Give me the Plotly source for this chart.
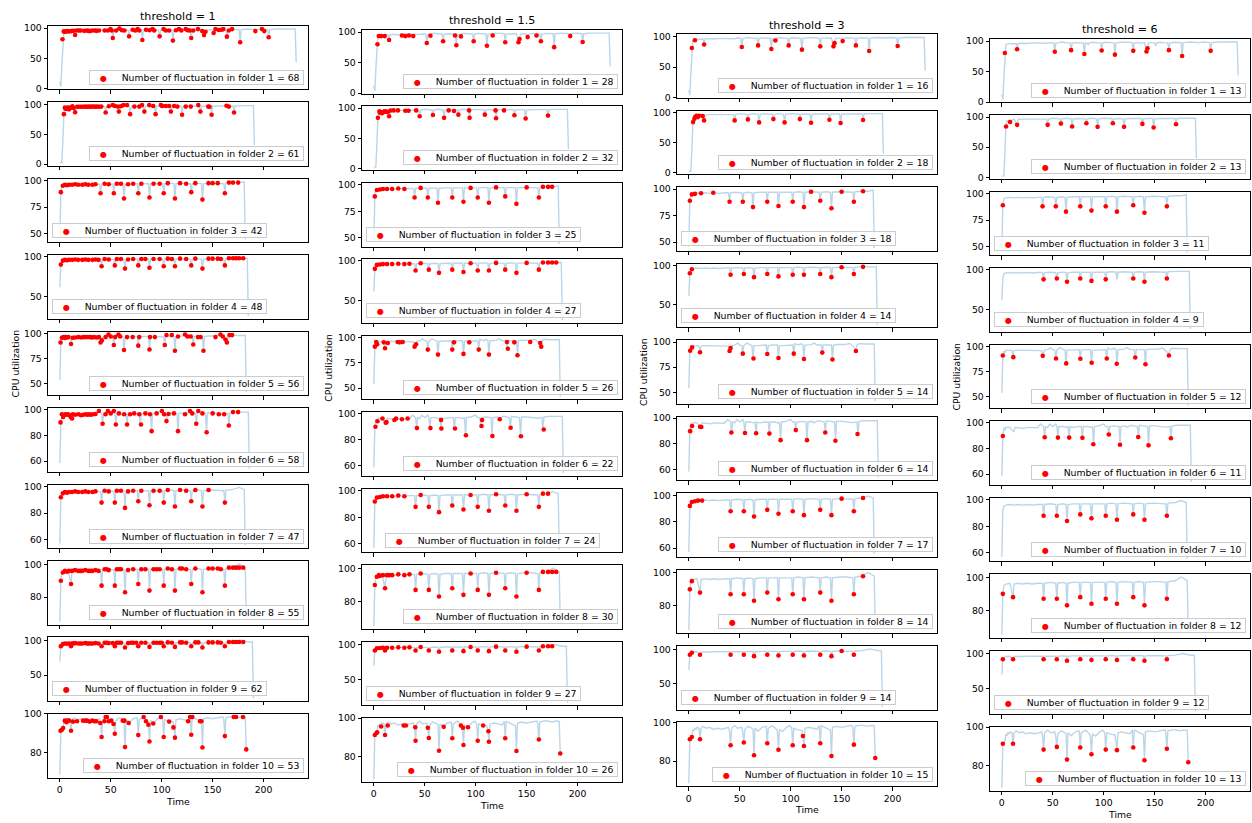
import plotly.graph_objects as go

W, H = 1252, 823
FONT = "DejaVu Sans"

THRESHOLD_LABELS = ["threshold = 1", "threshold = 1.5", "threshold = 3", "threshold = 6"]
X_TICKS = [0, 50, 100, 150, 200]
COUNT_TH1 = [68, 61, 42, 48, 56, 58, 47, 55, 62, 53]
COUNT_TH15 = [28, 32, 25, 27, 26, 22, 24, 30, 27, 26]
COUNT_TH3 = [16, 18, 18, 14, 14, 14, 17, 14, 14, 15]
COUNT_TH6 = [13, 13, 11, 9, 12, 11, 10, 12, 12, 13]
Y_TICKS = [[0, 50, 100], [0, 50, 100], [50, 75, 100], [50, 100], [50, 75, 100],
           [60, 80, 100], [60, 80, 100], [80, 100], [50, 100], [80, 100]]

# ---------------- folder 1 ----------------
L1 = [(0,12),(1,4),(2,40),(3,81),(4,94.5),(6,95.5),(9,96),(12,96.5),(14,96),(15,87),(16,96),(20,96.5),(25,96),
      (30,97),(35,96.5),(40,97),(45,96.5),(48,97.5),(51,97),(52,83),(53,96.5),(56,97.5),(59,98.5),(63,97),(67,97),
      (68,85.5),(69,97),(72,97.5),(76,97.5),(80,97),(81,79),(82,97),(84,96),(85,93.5),(86,97.5),(90,98),(94,97),
      (97,97),(98,85),(99,97),(102,98),(107,97.5),(110,97),(111,78),(112,97),(117,98),(120,97.5),(124,98),(128,97.5),
      (129,84),(130,97),(136,98),(140,97.5),(142,84),(143,89),(144,97),(150,97),(151,92),(152,97),(156,98),(159,97.5),
      (163,97),(164,85.5),(165,97),(170,98),(176,97.5),(177,76),(178,97.5),(185,98.5),(192,97.5),(199,98.5),(204,97.5),
      (205,84.5),(206,97.5),(212,98.5),(220,98.5),(226,98.9),(231,98.5),(232,44)]
D1_TH1 = [(2.6,81.6),(3.9,94.6),(5,94),(5.9,94.6),(7.5,95),(9.1,94.6),(11.4,95.1),(13,95.5),(15,88.6),(16.3,96.2),
          (18.5,96),(20.5,96.2),(24,95.5),(26.7,96.2),(28,95.5),(29.6,95.1),(32,96),(34.8,96.2),(36,95.5),(38.4,96.2),
          (44,96),(47.2,96.2),(49.8,98.4),(51,96),(52,83.8),(55.3,96.2),(58.5,99.2),(61,96.5),(63.4,96.2),(68,86.5),
          (71.5,97.3),(74,96),(76.4,98.4),(78,96.2),(81,80.5),(84.6,97.3),(88,96.5),(91,98.4),(92.7,96.2),(98,86.5),
          (101.8,98.4),(104,96),(107.3,96.2),(111,79.5),(114,96.5),(117,98.4),(119.3,96.2),(123.6,98.4),(125.5,96.5),
          (127.5,96.2),(129,83.8),(131,96),(135.6,98.4),(139.8,95.1),(141.5,88.6),(143,94),(151,92),(152.8,98.4),
          (156,97),(158.7,97.3),(160.5,98.4),(164,86),(165.9,96.2),(169.1,98.4),(177,76.8),(191.9,95.1),(198.4,98.4),
          (200.7,95.1),(205,84.9)]
D1_TH15 = [(3.6,80.3),(4.9,93.6),(7.2,93.6),(10.7,93.6),(15,87.2),(27.6,94.7),(30.9,93.6),(34.5,94.7),(38.7,93.6),
           (52,82.4),(55.6,94.1),(68,85.1),(79.7,94.7),(81,78.7),(85.5,93.1),(98,85.1),(111,77.7),(116.7,94.7),
           (129,83.5),(142,83.5),(143,88.8),(151,92),(159.7,94.7),(164,85.1),(177,75.5),(192.8,93.6),(205,84)]
D1_TH3 = [(3,81.2),(6,94),(15,87),(52,82.8),(68,85.5),(81,79.6),(85,93.5),(98,85.5),(111,78.5),(129,83.9),
          (142,83.9),(143,89.2),(151,92.5),(164,85.5),(177,76.3),(205,84.4)]
D1_TH6 = [(3,80.5),(15,86.7),(52,82.5),(68,85.1),(81,78.7),(98,84.6),(111,77.7),(129,84),(142,83),(143,88.3),
          (164,85.1),(177,75.5),(205,84)]

# ---------------- folder 2 ----------------
L2 = [(0,2),(1,2),(2,2.5),(3,40),(4,84),(5,94.5),(6,92.5),(7,94.5),(8,92),(9,94.5),(10,94.5),(12,96.5),(13,94),
      (15,87),(16,96),(19,96.5),(23,96.5),(27,96.5),(31,96),(35,96.5),(40,96.5),(44,96.5),(45,87),(46,96.5),(50,98),
      (54,97),(57,97),(58,88.5),(59,97),(63,98),(66,97.5),(68,97),(69,83.5),(70,97),(74,97.5),(78,97.5),(82,97),
      (83,89),(84,97),(88,98),(92,97.5),(93,97),(94,83.5),(95,97),(100,98),(104,97.5),(108,97.5),(109,89),(110,97),
      (114,97.5),(119,97),(120,83),(121,97),(126,97.5),(131,97.5),(137,97.5),(138,88),(139,97),(144,97.5),(148,97.5),
      (149,82.5),(150,97),(156,97.5),(163,98),(166,97.5),(170,97.5),(171,87.3),(172,97.5),(178,98),(185,98),(190,98),
      (191,32)]
D2_TH1 = [(4,83.7),(4.9,94.6),(5.5,93),(6.5,92.4),(7.3,94.5),(8.1,94.6),(9.1,91.8),(10,94),(10.7,94.6),(12.4,96.7),
          (13.5,94),(15,87),(17,96),(18.9,96),(21,96.2),(22.8,96),(25,96.3),(26.7,96),(28.5,96.3),(29.9,96),
          (31.5,96.4),(33.5,96.4),(35,96.2),(36.7,96.4),(38.5,96.2),(40.7,96.4),(45,86.4),(48.1,97),(52,98.9),
          (54,97.5),(56.9,96.4),(58,88),(60,97),(62.4,98.9),(66,98.9),(69,83.7),(73.2,96.4),(78,96.4),(80.7,98.9),
          (83,88),(87.8,98.9),(91.7,97.3),(94,83.7),(99.2,98.9),(100.5,97.5),(104,97.3),(107.3,97.3),(109,88),
          (112.2,97.3),(115.4,96.4),(120,82.6),(123.6,96.4),(128.5,96.4),(135.9,98.9),(138,88),(145.7,96.4),(147,96),
          (149,82.6),(163.6,97.8),(165.9,96.4),(171,86.4)]
D2_TH15 = [(4,83.9),(5.5,94.6),(6,92.5),(7,93),(8,91.4),(9.5,94),(10,93.5),(11,94.6),(12.5,94),(14,94),(15,86.6),
           (16.5,96),(19.5,96.2),(23.7,96.2),(30.9,95.7),(34.1,95.7),(41.6,96.2),(45,86.6),(58,88.7),(69,83.9),
           (73.5,96.2),(78.7,95.2),(83,89.2),(93.5,96.2),(94,83.9),(109,89.2),(119.5,96.2),(120,83.3),(127.8,96.2),
           (138,88.2),(149,82.8),(171,87.6)]
D2_TH3 = [(4.2,84),(5.5,89.6),(6.2,92.3),(7.5,94.5),(8.8,92.3),(10,94.5),(13.6,94),(15,86.8),(45,86.8),(58,88.5),
          (69,83.5),(83,89),(94,83.5),(109,89),(120,83),(138,88),(149,82.4),(171,87.4)]
D2_TH6 = [(4.2,84.2),(8.1,91.8),(15,87),(45,87),(58,89.1),(69,84.2),(83,89.7),(94,83.7),(109,89.7),(120,83.7),
          (138,88.6),(149,82.6),(171,88)]

# ---------------- folder 3 ----------------
L3 = [(0,46),(1,89),(2,95),(4,96),(8,96.5),(12,96),(16,96.5),(20,96),(25,96.5),(30,96),(35,96.5),(39,96.5),(40,88),
      (41,96.5),(45,97),(50,96.5),(52,96.5),(53,88),(54,96.5),(58,97),(62,96.5),(63,83),(64,96.5),(70,97),(76,97),
      (77,88),(78,97),(84,97),(87,97),(88,84),(89,97),(95,97),(101,97),(102,88),(103,97),(108,97.5),(112,97),(113,83),
      (114,97),(120,97.5),(128,97),(129,89),(130,97),(135,97.5),(139,97),(140,82),(141,97),(148,97.5),(155,97.5),
      (161,97),(162,88),(163,97.5),(170,98),(176,98),(181,99),(182,44.5)]
D3_TH1 = [(1,89),(3,95),(5,96),(7,95.5),(9,96),(12,96),(15,96.5),(18,96),(22,96),(25,96.5),(28,96),(32,96),(35,96.5),
          (40,88),(44,97),(48,96.5),(53,88),(56,97),(60,97),(63,83),(67,96.5),(72,97),(77,88),(80,97),(88,84),(92,97),
          (98,97),(102,88),(106,97.5),(113,83),(118,97.5),(124,97),(129,89),(133,97.5),(140,82),(146,97.5),(150,97.5),
          (155,97.5),(162,88),(166,98),(170,98),(175,98)]
D3_TH15 = [(1,89),(3,95),(6,95.5),(9,96),(13,96),(18,96),(24,96.5),(30,96),(40,88),(46,97),(53,88),(63,83),(77,88),
           (88,84),(95,97),(102,88),(113,83),(120,97.5),(129,89),(140,82),(150,97.5),(162,88),(166,98),(171,98),(175,98)]
D3_TH3 = [(1,89),(3,95),(6,95.5),(12,96),(24,96.5),(40,88),(53,88),(63,83),(77,88),(88,84),(102,88),(113,83),
          (120,97.5),(129,89),(140,82),(150,97.5),(162,88),(171,98)]
D3_TH6 = [(1,89),(40,88),(53,88),(63,83),(77,88),(88,84),(102,88),(113,83),(129,89),(140,82),(162,88)]

# ---------------- folder 4 ----------------
L4 = [(0,61.5),(1,90),(2,95),(4,96),(8,96.5),(12,96),(16,96.5),(20,96),(25,96.5),(30,96),(35,96.5),(40,96.5),(41,88),
      (42,96.5),(48,97),(53,96.5),(54,89),(55,96.5),(60,97),(63,96.5),(64,85),(65,96.5),(70,97),(76,97),(77,89),
      (78,97),(84,97),(87,97),(88,86),(89,97),(95,97),(101,97),(102,88),(103,97),(108,97.5),(112,97),(113,88),
      (114,97),(120,97.5),(128,97),(129,89),(130,97),(135,97.5),(139,97),(140,85),(141,97),(148,97.5),(155,97.5),
      (161,97),(162,89),(163,97.5),(170,98),(178,98.3),(184,98),(185,25.5)]
D4_TH1 = [(1,90),(3,95),(5,96),(7,95.5),(9,96),(12,96),(15,96.5),(18,96),(22,96),(25,96.5),(28,96),(32,96),(35,96.5),
          (38,96),(41,88),(44,97),(48,96.5),(54,89),(56,97),(60,97),(64,85),(67,96.5),(72,97),(77,89),(80,97),(84,97),
          (88,86),(92,97),(98,97),(102,88),(106,97.5),(110,97),(113,88),(118,97.5),(124,97),(129,89),(133,97.5),
          (140,85),(146,97.5),(150,97.5),(155,97.5),(158,97),(162,89),(166,98),(170,98),(173,98),(176,98),(180,98)]
D4_TH15 = [(1,90),(3,95),(6,95.5),(9,96),(13,96),(18,96),(24,96.5),(30,96),(35,96.5),(41,88),(46,97),(54,89),(64,85),
           (77,89),(88,86),(95,97),(102,88),(113,88),(120,97.5),(129,89),(140,85),(150,97.5),(162,89),(166,98),(171,98),
           (175,98),(179,98)]
D4_TH3 = [(1,90),(3,95),(41,88),(54,89),(64,85),(77,89),(88,86),(102,88),(113,88),(129,89),(140,85),(150,97.5),
          (162,89),(171,98)]
D4_TH6 = [(41,88),(54,89),(64,85),(77,89),(88,86),(102,88),(129,89),(140,85),(162,89)]

# ---------------- folder 5 ----------------
L5 = [(0,54),(1,91),(2,95.5),(3,94),(4,96.5),(6,96),(8,96.5),(10,96),(11,89.5),(12,95.7),(14,96.5),(18,96.5),(23,96.5),
      (26,96),(28,96.5),(31,96.5),(34,96.5),(38,96.5),(39,96),(40,91),(41,93.5),(42,96.5),(45,97),(48,99),(50,97),
      (52,96.5),(53,88.3),(54,96.5),(57,99),(60,97),(62,96.5),(63,83.3),(64,96.5),(67,96.5),(72,96.5),(76,97),(77,88),
      (78,96.5),(82,97),(87,97),(88,84),(89,96.5),(93,96.5),(98,97),(102,97),(103,88.3),(104,98.4),(108,97),(110,98.4),
      (112,97),(113,83),(114,97),(116,97),(120,97.5),(123,99),(126,97),(128,97),(130,97),(131,89.2),(132,97),(136,97),
      (140,97),(141,82.5),(142,97),(146,97.5),(150,97.5),(153,97.5),(158,98.5),(160,97),(163,94),(164,91),(165,97),
      (167,98.4),(170,98),(175,98),(180,98),(182,98),(183,41.5)]
D5_TH1 = [(0.7,91.1),(2,95.7),(3.6,96.4),(5,95.5),(5.9,96.4),(7,96),(8.5,96.4),(11,89.5),(12.7,95.7),(15,96),
          (18.2,96.4),(21,96),(23.4,96.4),(25.4,96.4),(27.6,96.4),(29.9,96.4),(31.5,96),(33.5,96.4),(36,96),(38.4,96.4),
          (40,91.1),(41.3,93.1),(45,96.4),(47.8,99),(50,97),(53,88.5),(54.3,96.4),(57.6,99),(59.2,97),(63,83.6),
          (66,96.4),(71.5,96.4),(77,87.9),(78,96.4),(88,84),(88.5,96.4),(93.3,96.4),(103,88.5),(104.7,98.4),
          (109.9,98.4),(113,82.9),(116,97),(122.9,99),(125.2,97),(128.5,97),(131,89.1),(135.6,96.4),(138.2,96.4),
          (141,82.9),(152.8,96.4),(157.7,99),(160,97),(162.6,94),(164,91.1),(166.5,98.4),(169.1,98.4)]
D5_TH15 = [(1,91.1),(2.3,95.7),(3.3,93.4),(9.8,95.4),(11,89.5),(13.7,94.7),(23.4,95.7),(25.4,95.4),(28.3,95.7),
           (40,91.1),(41.5,93.4),(53,88.2),(63,83.2),(77,88.2),(78.7,95.4),(88,83.9),(93.7,95.4),(103,88.2),(113,83.2),
           (130.7,95.7),(131.5,89.1),(137.9,95.4),(141,82.6),(153.5,95.7),(163.3,94.7),(164.3,91.1)]
D5_TH3 = [(1.3,91.4),(3.2,94.7),(11,89.8),(40,91.1),(41,94.1),(53,88.5),(63.5,83.6),(77,88.2),(88,84.2),(103,88.5),
          (113,83.2),(131,89.5),(141,82.6),(164,91.1)]
D5_TH6 = [(1,91.2),(11.3,89.5),(40.2,90.8),(53.2,88.2),(63.2,83.3),(77.1,87.9),(88.2,84),(103,88.2),(112.8,83),
          (131,89.2),(141,82.4),(164,91.2)]

# ---------------- folder 6 ----------------
L6 = [(0,58.5),(1,89.8),(2,96),(3,94),(4,96.5),(6,96.3),(8,96.3),(10,94.2),(11,93.3),(12,93),(13,96.3),(16,96),
      (18,96.3),(21,95.5),(25,96.3),(28,96.3),(32,96.5),(35,96),(38,98.9),(41,97),(42,88.8),(43,97),(45,96.3),
      (47,98.9),(50,97),(53,98.9),(54,97),(55,88.5),(56,97),(60,97),(63,96.3),(65,97),(66,88.3),(67,97),(69,96.3),
      (73,97),(76,97),(78,97),(79,88),(80,97),(84,97),(88,96.3),(89,97),(90,83),(91,97),(95,97.5),(100,98.9),(102,97),
      (104,97),(105,90.8),(106,97),(110,97.5),(115,97),(116,83),(117,97),(121,97.5),(123,96.3),(127,98),(131,97.5),
      (133,97),(134,89),(135,98),(139,97.5),(143,97),(144,82.5),(145,97.5),(150,97.5),(156,97),(161,96.5),(165,97),
      (166,87.8),(167,97.5),(172,98),(178,98),(183,98),(185,98),(186,54)]
D6_TH1 = [(0.7,90),(2,96.3),(3.3,94.2),(4.5,96),(5.9,96.3),(7,96),(8.1,96.3),(9.5,95.5),(10.7,94.2),(12,93),
          (12.7,96.3),(15,96),(18.2,96.3),(20.8,95.5),(23,96),(25.4,96.3),(27,96),(28.6,96.3),(30.5,96),(32.5,96.3),
          (35,96.5),(38.4,98.9),(42,89),(44.9,96.3),(47.2,98.9),(50,97),(53,98.9),(55,88.4),(58,97),(63.1,96.3),
          (66,88.4),(69,96.3),(73,97),(78,96.3),(79.7,88.4),(84,97),(88.5,96.3),(90.1,83.2),(95,97),(100.2,98.9),
          (102.4,96.3),(104.7,91),(106.7,96.5),(112,97),(116,83.2),(122.9,96.3),(127.8,98.9),(130,97),(133.9,89),
          (135.9,98.9),(140,97),(144.1,82.4),(150,97),(156.1,96.3),(161.3,96.3),(165.9,87.6),(170,98),(175,98)]
D6_TH15 = [(1.6,89.9),(3.6,94.2),(8.5,96.3),(11.7,93.1),(12.4,93.5),(20.2,95.2),(21.8,96.3),(27.6,95.8),(33.2,96.3),
           (42.3,88.9),(55.6,88.9),(66,95.2),(66.3,88.6),(79.7,88.6),(90.4,83.3),(105.7,90.5),(106.3,95.2),
           (116.4,82.8),(123.6,95.8),(134.3,89.1),(144.4,82.5),(166.8,87.8)]
D6_TH3 = [(1.3,89.9),(3.2,93.9),(11,93.3),(12.3,93.1),(41.8,88.8),(55.1,88.5),(66.1,88.3),(79.1,88),(90.1,82.9),
          (105,90.7),(116,82.9),(133.9,88.8),(143.9,82.4),(165.6,87.7)]
D6_TH6 = [(1,89.7),(42.1,88.7),(55.1,88.4),(66.1,88.4),(79.1,88.2),(89.8,83.2),(105,90.8),(116,82.9),(133.9,88.9),
          (144,82.4),(166,87.9)]

# ---------------- folder 7 ----------------
L7 = [(0,57),(1,92),(2,95),(4,96),(8,96.5),(12,96),(16,96.5),(20,96),(25,96.5),(30,96),(35,96.5),(40,96.5),(41,88),
      (42,96.5),(48,97),(53,96.5),(54,88),(55,96.5),(60,97),(63,96.5),(64,84),(65,96.5),(70,97),(76,97),(77,89),
      (78,97),(84,97),(87,97),(88,86),(89,97),(95,97),(101,97),(102,88),(103,97),(108,97.5),(112,97),(113,85),
      (114,97),(120,97.5),(128,97),(129,89),(130,97),(135,97.5),(139,97),(140,85),(141,97),(148,97.5),(155,97.5),
      (161,97),(162,88),(163,97.5),(170,98),(176,99.5),(181,98),(182,55.7)]
D7_TH1 = [(1,92),(3,95),(5,96),(7,95.5),(9,96),(12,96),(15,96.5),(18,96),(22,96),(25,96.5),(28,96),(32,96),(35,96.5),
          (41,88),(44,97),(48,96.5),(54,88),(56,97),(60,97),(64,84),(67,96.5),(72,97),(77,89),(80,97),(88,86),(92,97),
          (98,97),(102,88),(106,97.5),(113,85),(118,97.5),(124,97),(129,89),(133,97.5),(140,85),(146,97.5),(162,88)]
D7_TH15 = [(1,92),(3,95),(6,95.5),(9,96),(13,96),(18,96),(24,96.5),(30,96),(41,88),(46,97),(54,88),(64,84),(77,89),
           (88,86),(95,97),(102,88),(113,85),(120,97.5),(129,89),(140,85),(150,97.5),(162,88),(166,98),(171,98)]
D7_TH3 = [(1,92),(3,95),(6,95.5),(9,96),(13,96),(41,88),(54,88),(64,84),(77,89),(88,86),(102,88),(113,85),(129,89),
          (140,85),(150,97.5),(162,88),(171,98)]
D7_TH6 = [(41,88),(54,88),(64,84),(77,89),(88,86),(102,88),(113,85),(129,89),(140,85),(162,88)]

# ---------------- folder 8 ----------------
L8 = [(0,65),(1,90),(2,95),(4,96),(8,96.5),(11,88),(12,96),(16,96.5),(20,96),(25,96.5),(30,96),(35,96.5),(40,96.5),
      (41,87),(42,96.5),(48,97),(53,96.5),(54,87),(55,96.5),(60,97),(63,96.5),(64,83),(65,96.5),(70,97),(76,97),
      (77,88),(78,97),(84,97),(87,97),(88,84),(89,97),(95,97),(101,97),(102,87),(103,97),(108,97.5),(112,97),(113,84),
      (114,97),(120,97.5),(128,97),(129,88),(130,97),(135,97.5),(139,97),(140,83),(141,97),(148,97.5),(155,97.5),
      (161,97),(162,87),(163,97.5),(170,98),(176,100.3),(182,98),(183,66)]
D8_TH1 = [(1,90),(3,95),(5,96),(7,95.5),(9,96),(11,88),(15,96.5),(18,96),(22,96),(25,96.5),(28,96),(32,96),
          (35,96.5),(38,96),(41,87),(44,97),(48,96.5),(54,87),(56,97),(60,97),(64,83),(67,96.5),(72,97),(77,88),
          (80,97),(84,97),(88,84),(92,97),(98,97),(102,87),(106,97.5),(110,97),(113,84),(118,97.5),(124,97),(129,88),
          (133,97.5),(140,83),(146,97.5),(150,97.5),(155,97.5),(158,97),(162,87),(166,98),(170,98),(173,98),(176,98),
          (180,98),(12,96),(20,96),(30,96),(46,97),(58,97),(95,97),(120,97.5)]
D8_TH15 = [(1,90),(3,95),(6,95.5),(9,96),(11,88),(13,96),(18,96),(24,96.5),(30,96),(35,96.5),(41,87),(46,97),(54,87),
           (64,83),(77,88),(88,84),(95,97),(102,87),(113,84),(120,97.5),(129,88),(140,83),(150,97.5),(162,87),(166,98),
           (171,98),(175,98),(179,98),(15,96),(5,96)]
D8_TH3 = [(1,90),(11,88),(41,87),(54,87),(64,83),(77,88),(88,84),(102,87),(113,84),(129,88),(140,83),(162,87),
          (3,95),(171,98)]
D8_TH6 = [(1,90),(11,88),(41,87),(54,87),(64,83),(77,88),(88,84),(102,87),(113,84),(129,88),(140,83),(162,87)]

# ---------------- folder 9 ----------------
L9 = [(0,70),(1,92),(2,95),(4,96),(8,96.5),(11,92),(12,96),(16,96.5),(20,96),(25,96.5),(30,96),(35,96.5),(40,96.5),
      (41,92),(42,96.5),(48,97),(53,96.5),(54,92),(55,96.5),(60,97),(63,96.5),(64,90),(65,96.5),(70,97),(76,97),
      (77,92),(78,97),(84,97),(87,97),(88,91),(89,97),(95,97),(101,97),(102,92),(103,97),(108,97.5),(112,97),(113,91),
      (114,97),(120,97.5),(128,97),(129,92),(130,97),(135,97.5),(139,97),(140,90),(141,97),(148,97.5),(155,97.5),
      (161,97),(162,92),(163,97.5),(170,98),(178,100.5),(185,98),(189,98),(190,16.5)]
D9_TH1 = [(1,92),(3,95),(5,96),(7,95.5),(9,96),(11,92),(13,96),(15,96.5),(18,96),(20,96),(22,96),(25,96.5),(28,96),
          (30,96),(32,96),(35,96.5),(38,96),(41,92),(44,97),(46,97),(48,96.5),(54,92),(56,97),(58,97),(60,97),(64,90),
          (67,96.5),(70,97),(72,97),(77,92),(80,97),(84,97),(88,91),(92,97),(95,97),(98,97),(102,92),(106,97.5),
          (110,97),(113,91),(118,97.5),(120,97.5),(124,97),(129,92),(133,97.5),(136,97.5),(140,90),(146,97.5),
          (150,97.5),(155,97.5),(158,97),(162,92),(166,98),(170,98),(173,98),(176,98),(180,98),(12,96),(27,96),
          (52,96.5),(75,97),(100,97)]
D9_TH15 = [(1,92),(3,95),(6,95.5),(9,96),(11,92),(13,96),(18,96),(24,96.5),(30,96),(41,92),(46,97),(54,92),(64,90),
           (77,92),(88,91),(95,97),(102,92),(113,91),(120,97.5),(129,92),(140,90),(150,97.5),(162,92),(166,98),(171,98),
           (175,98),(35,96.5)]
D9_TH3 = [(1,92),(11,92),(41,92),(54,92),(64,90),(77,92),(88,91),(102,92),(113,91),(129,92),(140,90),(162,92),
          (3,95),(150,97.5)]
D9_TH6 = [(1,92),(11,92),(41,92),(54,92),(64,90),(77,92),(88,91),(102,92),(113,91),(129,92),(140,90),(162,92)]

# ---------------- folder 10 ----------------
L10 = [(0,68.5),(1,91.3),(2,92),(3,92.7),(4,96.5),(5,95.5),(6,97),(7,96.5),(8,97.5),(10,97),(11,91.3),(12,97),(14,98),
       (17,97),(20,97.5),(24,96.5),(28,97),(32,96.5),(36,97),(39,97.5),(40,95.3),(41,88.3),(42,97),(45,98.4),(48,97),
       (52,97.5),(53,95),(54,89.6),(55,96.5),(58,98),(62,97),(63,96.5),(64,83),(65,97),(68,95.5),(72,97.5),(76,98),
       (77,89.3),(78,97),(82,98.4),(86,96.5),(87,95),(88,86),(89,96.5),(92,95.3),(96,97.5),(99,98.4),(101,97),
       (102,88.3),(103,97),(107,96.2),(111,96),(112,93),(113,88),(114,97),(118,97.5),(122,97),(126,96.5),(128,98.4),
       (129,89.3),(130,98.4),(134,97.5),(138,96.2),(139,96),(140,82.8),(141,97.5),(145,98),(150,97.5),(155,98),
       (160,98.5),(161,97),(162,88.7),(163,98),(167,98.5),(171,98.5),(175,98),(179,98.5),(182,98.3),(183,81.7)]
D10_TH1 = [(0.7,91.3),(2,91.8),(3.3,92.7),(4.9,96.5),(6.5,95.7),(7.5,96.5),(9.1,96.5),(11,91.3),(13,96),(16.9,96.2),
           (22.8,96.5),(25,96.5),(26.7,96.5),(29.3,96),(31.9,96.5),(34.1,96.2),(35.8,96.2),(39.7,95.3),(41,88),
           (43.9,96.2),(45,98.4),(46.2,98.4),(48.1,96.2),(50.4,96.5),(52.7,94.8),(54,89.7),(61.8,96.5),(63.4,96.5),
           (64,82.8),(67.6,95.3),(77,89),(82.3,98.4),(84.6,96.2),(86.9,94.4),(88,85.7),(91.7,95),(99.2,98.4),
           (102,88),(107.3,96),(111.5,93),(113,87.7),(125.9,96.2),(127.8,98.4),(129,89.2),(130.1,98.4),(137.6,96.2),
           (138.9,96.2),(140,82.6),(162,88.5),(170.7,98.4),(173,98.4),(179.8,98.4),(183,81.6)]
D10_TH15 = [(1,91.3),(2.6,92.3),(3.3,92.7),(7.2,95.7),(11,91.3),(13.7,96.2),(29.3,96.2),(31.5,96.2),(40.7,95.3),
            (41,88.3),(53,95),(54,89.7),(64,83.1),(68.6,95.5),(77,89.6),(85.5,96.2),(87.5,95),(88,86.1),(92.4,95.3),
            (102,88.3),(107.3,96.2),(112.5,93.2),(113,87.8),(129,89.6),(140,83),(162,88.9),(183,81.7)]
D10_TH3 = [(1,91.3),(3,92.5),(11,91.3),(41,88.2),(54,89.6),(64,83),(77,89.2),(88,85.9),(102,88.2),(112,93),
           (113,87.8),(129,89.2),(140,82.6),(162,88.5),(183,81.6)]
D10_TH6 = [(1,91.3),(11,91.3),(41,88.3),(54,89.7),(64,83.1),(77,89.4),(88,85.9),(102,88.3),(113,88),(129,89.4),
           (140,82.8),(162,88.7),(183,81.7)]

LINES = [L1, L2, L3, L4, L5, L6, L7, L8, L9, L10]
DOTS = [
    [D1_TH1, D2_TH1, D3_TH1, D4_TH1, D5_TH1, D6_TH1, D7_TH1, D8_TH1, D9_TH1, D10_TH1],
    [D1_TH15, D2_TH15, D3_TH15, D4_TH15, D5_TH15, D6_TH15, D7_TH15, D8_TH15, D9_TH15, D10_TH15],
    [D1_TH3, D2_TH3, D3_TH3, D4_TH3, D5_TH3, D6_TH3, D7_TH3, D8_TH3, D9_TH3, D10_TH3],
    [D1_TH6, D2_TH6, D3_TH6, D4_TH6, D5_TH6, D6_TH6, D7_TH6, D8_TH6, D9_TH6, D10_TH6],
]
COUNTS = [COUNT_TH1, COUNT_TH15, COUNT_TH3, COUNT_TH6]
# legend placement per column (R = lower right, L = lower left, C = lower center)
LEGEND_SIDE = ["RRLLRRRRLR", "RRLLRRCRLR", "RRLLRRRRLR", "RRLLRRRRLR"]

# ---------------- layout geometry (pixels) ----------------
COL_LEFT = [48, 362, 677, 990]
COL_TOP = [20, 24.3, 28.7, 33.3]
AX_W, AX_H, ROW_PITCH = 260, 64.5, 77.5

LINE_COLOR = "rgba(31,119,180,0.3)"
DOT_COLOR = "#ff0000"
FS = 9.3

tmax = max(p[0] for L in LINES for p in L)
xr = [-0.05 * tmax, tmax * 1.05]

fig = go.Figure()
layout = dict(width=W, height=H, margin=dict(l=0, r=0, t=0, b=0), paper_bgcolor="white",
              plot_bgcolor="white", showlegend=False, hovermode=False,
              font=dict(family=FONT, size=FS, color="black"))
annotations = []

for c in range(4):
    for r in range(10):
        k = c * 10 + r + 1
        xid = "x" if k == 1 else f"x{k}"
        yid = "y" if k == 1 else f"y{k}"
        line = LINES[r]
        dots = DOTS[c][r]
        fig.add_trace(go.Scatter(x=[p[0] for p in line], y=[p[1] for p in line], mode="lines",
                                 line=dict(color=LINE_COLOR, width=1.4), xaxis=xid, yaxis=yid))
        fig.add_trace(go.Scatter(x=[p[0] for p in dots], y=[p[1] for p in dots], mode="markers",
                                 marker=dict(color=DOT_COLOR, size=4.6), xaxis=xid, yaxis=yid))
        vals = [p[1] for p in line] + [p[1] for p in dots]
        lo, hi = min(vals), max(vals)
        pad = 0.05 * (hi - lo)
        left = COL_LEFT[c]
        top = COL_TOP[c] + r * ROW_PITCH
        xdom = [left / W, (left + AX_W) / W]
        ydom = [1 - (top + AX_H) / H, 1 - top / H]
        common = dict(ticks="outside", ticklen=3.5, tickwidth=0.8, tickcolor="black", showline=True,
                      linecolor="black", linewidth=0.8, mirror=True, showgrid=False, zeroline=False,
                      tickfont=dict(family=FONT, size=FS, color="black"))
        layout["xaxis" if k == 1 else f"xaxis{k}"] = dict(domain=xdom, range=xr, tickvals=X_TICKS,
                                                           showticklabels=(r == 9), anchor=yid, **common)
        layout["yaxis" if k == 1 else f"yaxis{k}"] = dict(domain=ydom, range=[lo - pad, hi + pad],
                                                           tickvals=Y_TICKS[r], anchor=xid, **common)
        side = LEGEND_SIDE[c][r]
        label = f"Number of fluctuation in folder {r + 1} = {COUNTS[c][r]}"
        text = ("&nbsp;&nbsp;&nbsp;<span style='color:#ff0000;font-size:8px'>●</span>"
                "&nbsp;&nbsp;&nbsp;&nbsp;&nbsp;" + label + "&nbsp;")
        if side == "R":
            lx, lanchor, lshift = 1, "right", -3.7
        elif side == "L":
            lx, lanchor, lshift = 0, "left", 3.7
        else:
            lx, lanchor, lshift = 0.5, "center", 0
        annotations.append(dict(text=text, xref=f"{xid} domain", yref=f"{yid} domain",
                                x=lx, y=0, xanchor=lanchor, yanchor="bottom",
                                xshift=lshift, yshift=4.6, showarrow=False,
                                bordercolor="#cccccc", borderwidth=1, borderpad=1,
                                bgcolor="rgba(255,255,255,0.8)", font=dict(family=FONT, size=FS, color="black")))
        if r == 0:
            annotations.append(dict(text=THRESHOLD_LABELS[c], xref=f"{xid} domain", yref=f"{yid} domain",
                                    x=0.5, y=1, xanchor="center", yanchor="middle", yshift=9.3,
                                    showarrow=False, font=dict(family=FONT, size=11.1, color="black")))
        if r == 9:
            annotations.append(dict(text="Time", xref=f"{xid} domain", yref=f"{yid} domain",
                                    x=0.5, y=0, xanchor="center", yanchor="middle", yshift=-23.5,
                                    showarrow=False, font=dict(family=FONT, size=FS, color="black")))
        if r == 4:
            annotations.append(dict(text="CPU utilization", xref=f"{xid} domain", yref=f"{yid} domain",
                                    x=0, y=0.5, xanchor="center", yanchor="middle", xshift=-33,
                                    textangle=-90, showarrow=False,
                                    font=dict(family=FONT, size=FS, color="black")))

layout["annotations"] = annotations
fig.update_layout(**layout)
fig.write_html("out.html", config={"displayModeBar": False},
               post_script="document.body.style.margin='0px';document.body.style.padding='0px';")
